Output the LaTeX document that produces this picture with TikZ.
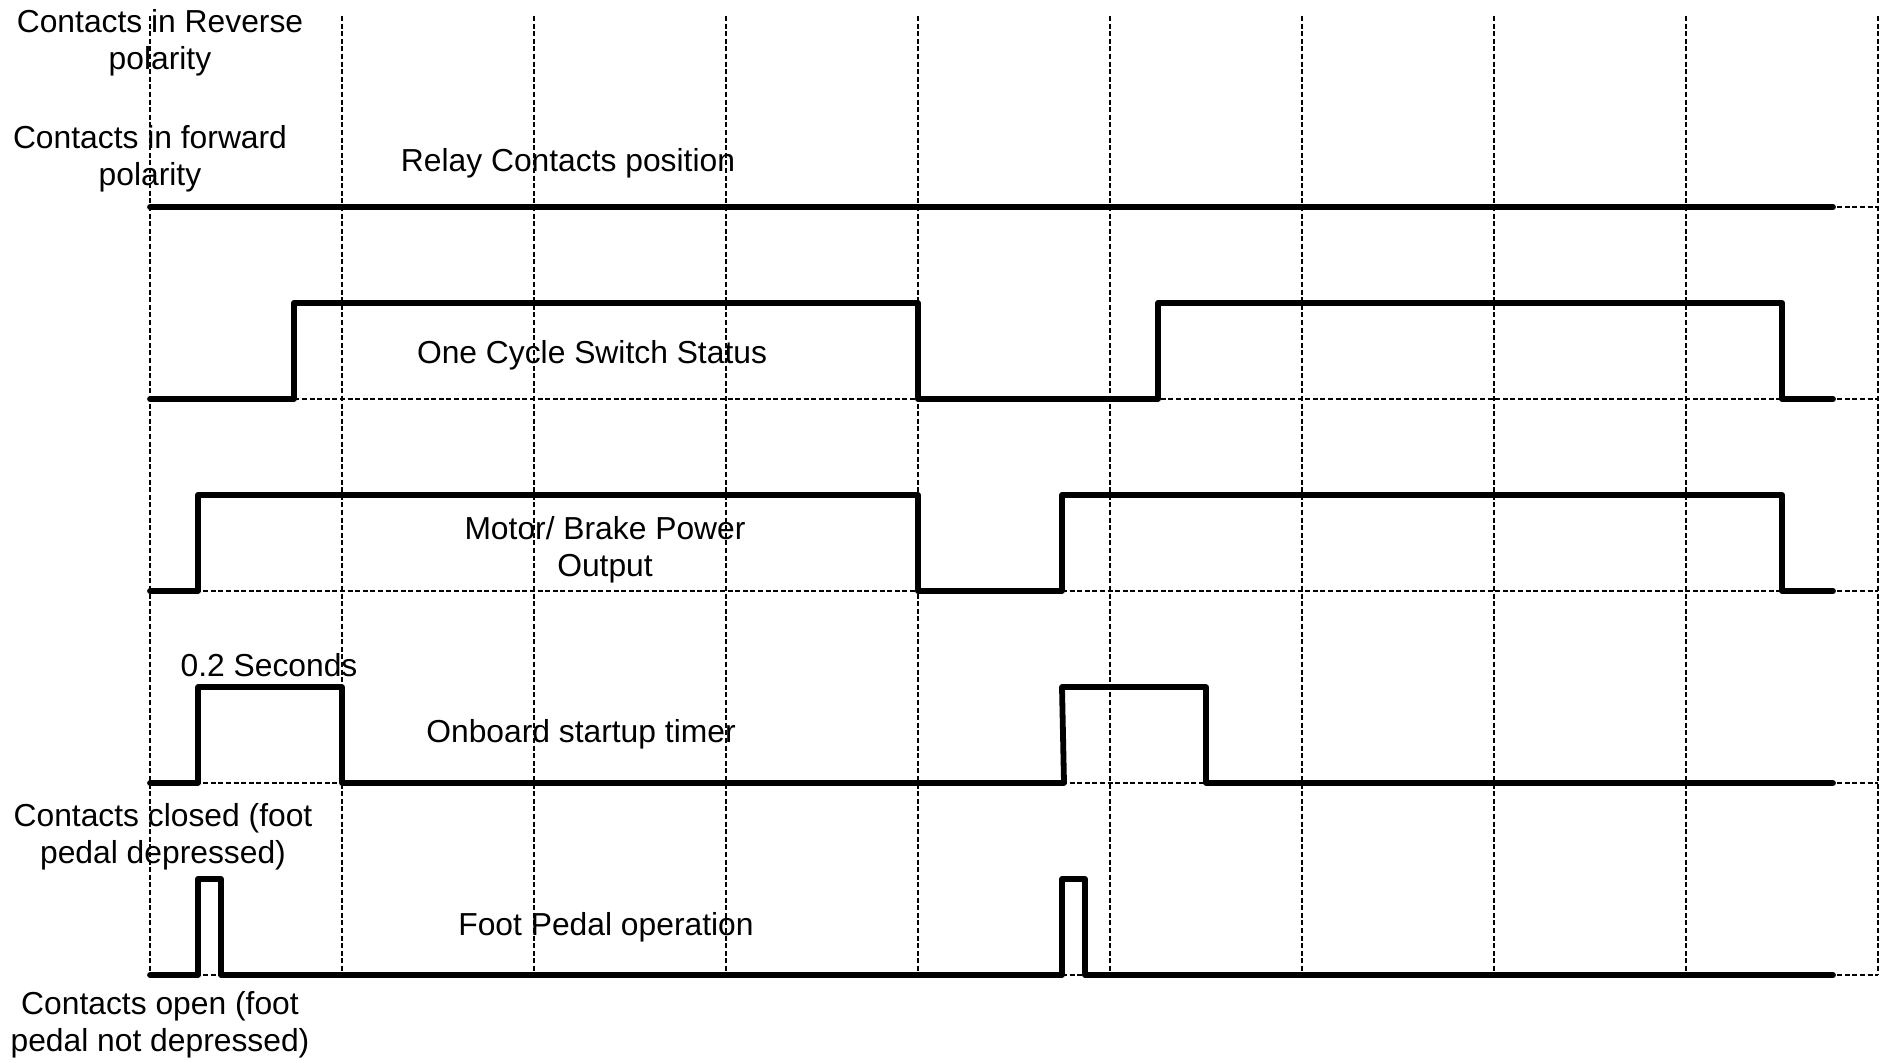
\documentclass[tikz,border=0pt]{standalone}
\usepackage{fontspec}
\setmainfont{Liberation Sans}
\begin{document}
\begin{tikzpicture}[x=0.5pt,y=-0.5pt,
  grid/.style={line width=0.7pt,dash pattern=on 2.5pt off 1.3pt},
  signal/.style={line width=2.9pt,line cap=round,line join=round},
  lbl/.style={anchor=base,align=center,inner sep=0pt,
    font=\fontsize{15.9}{18.5}\selectfont}]
\useasboundingbox (0,0) rectangle (1889,1063);

% time grid
\foreach \x in {150,342,534,726,918,1110,1302,1494,1686,1878}
  \draw[grid] (\x,16) -- (\x,975);
\foreach \y in {207,399,591,783,975}
  \draw[grid] (150,\y) -- (1878,\y);

% relay contacts position
\draw[signal] (150,207) -- (1833,207);
% one cycle switch status
\draw[signal] (150,399) -- (294,399) -- (294,303) -- (918,303) -- (918,399)
  -- (1158,399) -- (1158,303) -- (1782,303) -- (1782,399) -- (1833,399);
% motor / brake power output
\draw[signal] (150,591) -- (198,591) -- (198,495) -- (918,495) -- (918,591)
  -- (1062,591) -- (1062,495) -- (1782,495) -- (1782,591) -- (1833,591);
% onboard startup timer
\draw[signal] (150,783) -- (198,783) -- (198,687) -- (342,687) -- (342,783)
  -- (1064,783) -- (1062,687) -- (1206,687) -- (1206,783) -- (1833,783);
% foot pedal operation
\draw[signal] (150,975) -- (198,975) -- (198,879) -- (221,879) -- (221,975)
  -- (1062,975) -- (1062,879) -- (1085,879) -- (1085,975) -- (1833,975);

% labels (base anchor = baseline of the last line)
\node[lbl] (rev) at (160,70) {Contacts in Reverse\\polarity};
\node[lbl] (fwd) at (150,186) {Contacts in forward\\polarity};
\node[lbl] (relay) at (568,172) {Relay Contacts position};
\node[lbl] (cycle) at (592,364) {One Cycle Switch Status};
\node[lbl] (motor) at (605,576) {Motor/ Brake Power\\Output};
\node[lbl] (sec) at (269,676) {0.2 Seconds};
\node[lbl] (timer) at (581,742) {Onboard startup timer};
\node[lbl] (closed) at (163,863) {Contacts closed (foot\\pedal depressed)};
\node[lbl] (pedal) at (606,935) {Foot Pedal operation};
\node[lbl] (open) at (160,1051) {Contacts open (foot\\pedal not depressed)};
\end{tikzpicture}
\end{document}
